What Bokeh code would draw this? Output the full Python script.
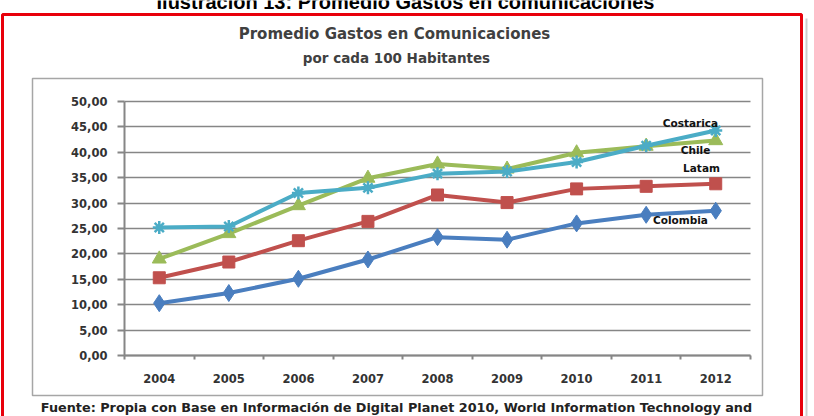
from bokeh.plotting import figure
from bokeh.models import Range1d, FixedTicker, Label, BoxAnnotation, LinearAxis, Grid
from bokeh.embed import file_html
from bokeh.resources import INLINE

# ---- data ----
years = ["2004", "2005", "2006", "2007", "2008", "2009", "2010", "2011", "2012"]
colombia = [10.3, 12.3, 15.1, 18.9, 23.3, 22.8, 26.0, 27.7, 28.5]
latam = [15.3, 18.4, 22.6, 26.4, 31.6, 30.1, 32.8, 33.3, 33.8]
chile = [19.0, 24.0, 29.5, 34.9, 37.7, 36.7, 39.9, 41.2, 42.3]
costarica = [25.2, 25.4, 32.0, 33.0, 35.8, 36.2, 38.1, 41.3, 44.3]
y_ticks = [0, 5, 10, 15, 20, 25, 30, 35, 40, 45, 50]
y_tick_labels = ["0,00", "5,00", "10,00", "15,00", "20,00", "25,00", "30,00",
                 "35,00", "40,00", "45,00", "50,00"]
series_names = ["Colombia", "Latam", "Chile", "Costarica"]

fig_title = "Promedio Gastos en Comunicaciones"
fig_subtitle = "por cada 100 Habitantes"
doc_caption = "Ilustración 13: Promedio Gastos en comunicaciones"
source_note = ("Fuente: Propia con Base en Información de Digital Planet 2010, "
               "World Information Technology and")

# ---- layout (pixels) ----
W, H = 814, 416
FL, FR, FT, FB = 124, 750, 101, 355   # plot area in canvas pixels
n = len(years)
xs = list(range(n))
x0, x1 = -0.5, n - 0.5
y0, y1 = y_ticks[0], y_ticks[-1]


def px2x(px):
    return x0 + (px - FL) / (FR - FL) * (x1 - x0)


def py2y(py):
    return y0 + (FB - py) / (FB - FT) * (y1 - y0)


p = figure(width=W, height=H,
           x_range=Range1d(px2x(0), px2x(W)), y_range=Range1d(py2y(H), py2y(0)),
           x_axis_type=None, y_axis_type=None,
           output_backend="svg", toolbar_location=None,
           min_border=0, min_border_left=0, min_border_right=0,
           min_border_top=0, min_border_bottom=0,
           background_fill_color="white", border_fill_color="white",
           outline_line_color=None)
p.grid.visible = False

axis_color = "#868686"
tick_font = "DejaVu Sans"
tick_color = "#333333"

# ---- grid ----
grid_props = dict(grid_line_color=axis_color, grid_line_width=1.6)
if "cross_bounds" in Grid.properties():
    g = Grid(dimension=1, ticker=FixedTicker(ticks=y_ticks), bounds=(y0, y1),
             cross_bounds=(x0, x1), **grid_props)
    p.add_layout(g)
else:
    p.segment(x0=[x0] * len(y_ticks), x1=[x1] * len(y_ticks), y0=y_ticks, y1=y_ticks,
              line_color=axis_color, line_width=1.6)

# ---- x axis ----
xaxis = LinearAxis(fixed_location=y0, bounds=(x0, x1),
                   ticker=FixedTicker(ticks=xs, minor_ticks=[i - 0.5 for i in range(n + 1)]))
xaxis.major_label_overrides = {i: y for i, y in enumerate(years)}
xaxis.major_tick_out = 0
xaxis.major_tick_in = 0
xaxis.minor_tick_out = 4
xaxis.minor_tick_in = 0
xaxis.minor_tick_line_color = axis_color
xaxis.minor_tick_line_width = 2
xaxis.axis_line_color = axis_color
xaxis.axis_line_width = 2
xaxis.major_label_standoff = 14
xaxis.major_label_text_font = tick_font
xaxis.major_label_text_font_style = "bold"
xaxis.major_label_text_font_size = "11.5px"
xaxis.major_label_text_color = tick_color
p.add_layout(xaxis, "below")

# ---- y axis ----
yaxis = LinearAxis(fixed_location=x0, bounds=(y0, y1), ticker=FixedTicker(ticks=y_ticks))
yaxis.major_label_overrides = {t: l for t, l in zip(y_ticks, y_tick_labels)}
yaxis.major_tick_out = 7
yaxis.major_tick_in = 0
yaxis.minor_tick_out = 0
yaxis.minor_tick_in = 0
yaxis.major_tick_line_color = axis_color
yaxis.major_tick_line_width = 2
yaxis.axis_line_color = axis_color
yaxis.axis_line_width = 2
yaxis.major_label_standoff = 10
yaxis.major_label_text_font = tick_font
yaxis.major_label_text_font_style = "bold"
yaxis.major_label_text_font_size = "11.5px"
yaxis.major_label_text_color = tick_color
p.add_layout(yaxis, "left")

# ---- series ----
colors = {"Colombia": "#4a7ebf", "Latam": "#c0504d", "Chile": "#9bbb59", "Costarica": "#4bacc6"}
vals = {"Colombia": colombia, "Latam": latam, "Chile": chile, "Costarica": costarica}
markers = {"Colombia": ("diamond", 17), "Latam": ("square", 12),
           "Chile": ("triangle", 14), "Costarica": ("asterisk", 13)}

for name in series_names:
    c = colors[name]
    p.line(xs, vals[name], line_color=c, line_width=4)
    m, s = markers[name]
    if m == "asterisk":
        p.scatter(xs, vals[name], marker=m, size=s, line_color=c, line_width=2.5)
    else:
        p.scatter(xs, vals[name], marker=m, size=s, fill_color=c, line_color=c, line_width=1)

# ---- series labels ----
label_pos = {"Costarica": (690, 122), "Chile": (695, 149), "Latam": (701, 167), "Colombia": (680, 219)}
for name in series_names:
    lx, ly = label_pos[name]
    p.add_layout(Label(x=px2x(lx), y=py2y(ly), text=name, text_align="center",
                       text_baseline="middle", text_font="DejaVu Sans",
                       text_font_style="bold", text_font_size="10.5px", text_color="#111111"))

# ---- frames ----
p.add_layout(BoxAnnotation(left=px2x(32), right=px2x(762), top=py2y(78), bottom=py2y(395),
                           fill_alpha=0, line_color="#a6a6a6", line_alpha=1, line_width=1.5))
p.add_layout(BoxAnnotation(left=px2x(805), right=px2x(807), top=py2y(18), bottom=py2y(425),
                           fill_color="#bfbfbf", fill_alpha=0.8, line_alpha=0))
p.add_layout(BoxAnnotation(left=px2x(2), right=px2x(801), top=py2y(14), bottom=py2y(425),
                           fill_alpha=0, line_color="#e8000b", line_alpha=1, line_width=3))

# ---- texts ----
p.add_layout(Label(x=px2x(394), y=py2y(33), text=fig_title, text_align="center",
                   text_baseline="middle", text_font="DejaVu Sans", text_font_style="bold",
                   text_font_size="15px", text_color="#404040"))
p.add_layout(Label(x=px2x(396), y=py2y(57), text=fig_subtitle, text_align="center",
                   text_baseline="middle", text_font="DejaVu Sans", text_font_style="bold",
                   text_font_size="13.5px", text_color="#404040"))
p.add_layout(Label(x=px2x(405), y=py2y(1), text=doc_caption, text_align="center",
                   text_baseline="middle", text_font="Liberation Sans", text_font_style="bold",
                   text_font_size="20px", text_color="#000000"))
p.add_layout(Label(x=px2x(396), y=py2y(407), text=source_note, text_align="center",
                   text_baseline="middle", text_font="DejaVu Sans", text_font_style="bold",
                   text_font_size="12.8px", text_color="#222222"))

open("out.html", "w").write(file_html(p, INLINE))
